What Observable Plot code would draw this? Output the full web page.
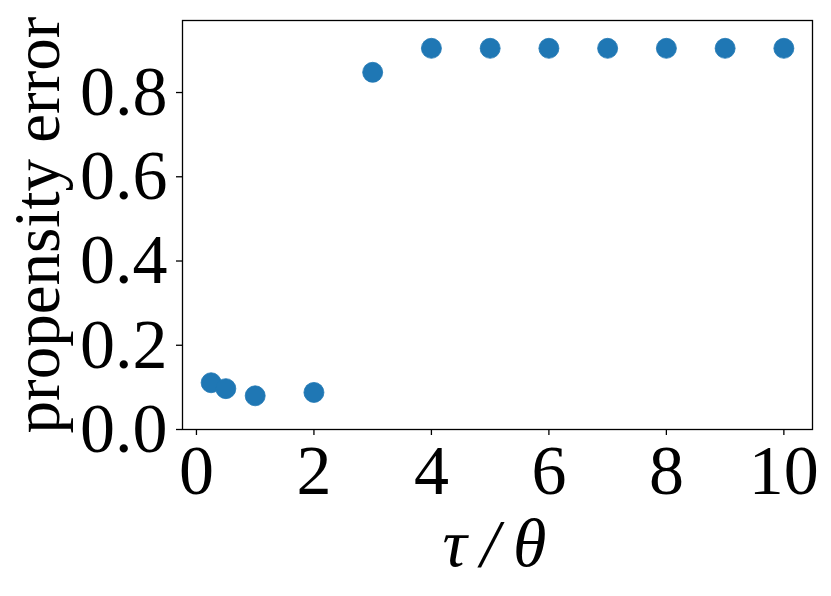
<!DOCTYPE html>
<html><head><meta charset="utf-8">
<script src="https://cdn.jsdelivr.net/npm/d3@7"></script>
<script src="https://cdn.jsdelivr.net/npm/@observablehq/plot@0.6"></script>
<style>body{margin:0;background:#fff}</style></head>
<body><div id="chart"></div>
<script>
const tauOverTheta = [0.25, 0.5, 1, 2, 3, 4, 5, 6, 7, 8, 9, 10];
const propensityError = [0.111, 0.097, 0.080, 0.088, 0.848, 0.905, 0.905, 0.905, 0.905, 0.905, 0.905, 0.905];
const xTicks = [0, 2, 4, 6, 8, 10];
const yTicks = [0, 0.2, 0.4, 0.6, 0.8];
const xLabel = "τ\u2009/\u2009θ";
const yLabel = "propensity error";

const data = tauOverTheta.map((t, i) => ({t, e: propensityError[i]}));
const font = "'Liberation Serif', 'Times New Roman', serif";

const chart = Plot.plot({
  width: 831, height: 596,
  marginLeft: 182, marginRight: 19, marginTop: 20, marginBottom: 167,
  style: {fontFamily: font, background: "white", color: "black"},
  x: {domain: [-0.2375, 10.4875]},
  y: {domain: [0, 0.971]},
  marks: [
    Plot.axisX({ticks: xTicks, tickSize: 6, tickPadding: 9, fontSize: 70, strokeWidth: 1.3,
      tickFormat: d => String(d), label: null}),
    Plot.axisY({ticks: yTicks, tickSize: 6, tickPadding: 9, fontSize: 70, strokeWidth: 1.3,
      tickFormat: d3.format(".1f"), label: null}),
    Plot.frame({stroke: "black", strokeWidth: 1.3}),
    Plot.dot(data, {x: "t", y: "e", r: 10, fill: "#1f77b4", stroke: "#1f77b4", strokeWidth: 0.8}),
    Plot.text([xLabel], {frameAnchor: "bottom", text: d => d, fontSize: 68, fontStyle: "italic",
      textAnchor: "middle", lineAnchor: "middle", dy: 115, dx: -3}),
    Plot.text([yLabel], {frameAnchor: "left", text: d => d, fontSize: 65, rotate: -90,
      textAnchor: "middle", lineAnchor: "middle", dx: -144})
  ]
});
document.getElementById("chart").append(chart);
</script>
</body></html>
